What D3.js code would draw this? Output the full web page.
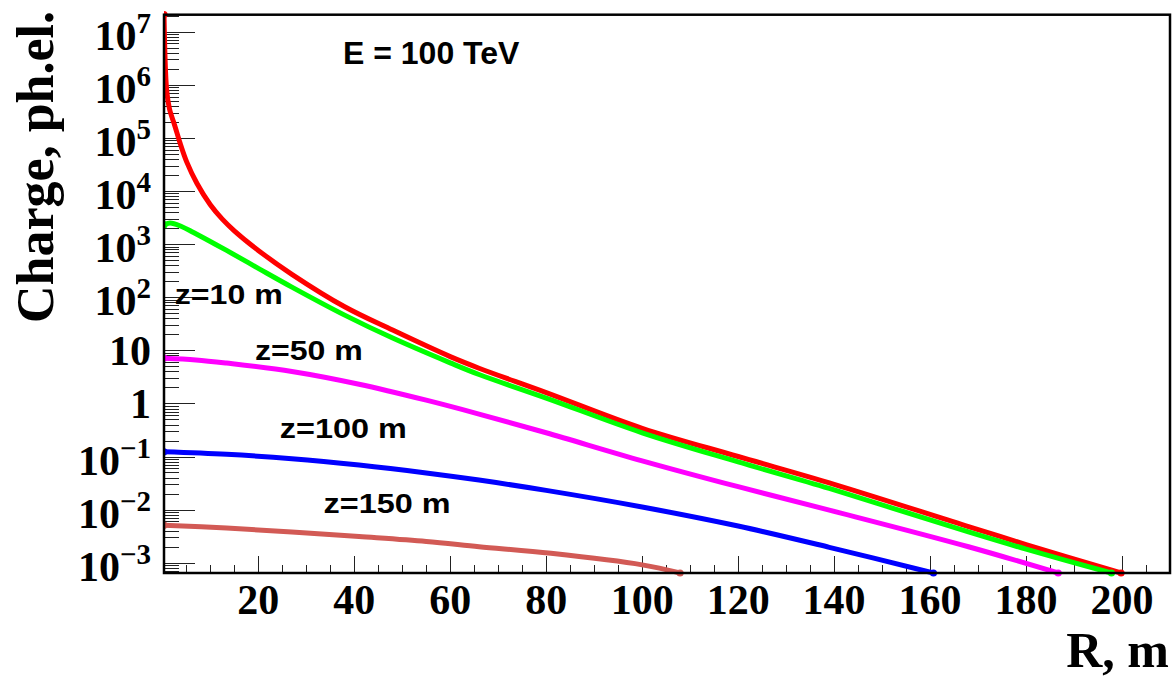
<!DOCTYPE html>
<html>
<head>
<meta charset="utf-8">
<script src="https://cdn.jsdelivr.net/npm/d3@7"></script>
<style>
  html, body { margin: 0; padding: 0; background: #fff; }
  svg { display: block; }
</style>
</head>
<body>
<svg id="chart" width="1174" height="677"></svg>
<script>
// Lateral distribution of Cherenkov charge, E = 100 TeV
// Shower axis curve (no label)
const radiusAxis = [0.35, 0.9, 1.5, 2.6, 3.7, 5.1, 7.2, 10, 12.5, 15, 20, 27, 38, 48, 60, 66, 80, 100, 120, 140, 168, 180, 199.8];
const chargeAxis = [2.1e7, 8.0e5, 3.5e5, 1.7e5, 8.0e4, 3.5e4, 1.4e4, 5.5e3, 2.95e3, 1.78e3, 7.6e2, 2.7e2, 66, 24, 7.6, 4.6, 1.6, 0.34, 0.10, 0.030, 4.8e-3, 2.2e-3, 6.4e-4];

// z = 10 m
const radiusZ10 = [0.35, 1.6, 4, 6.5, 10, 13.4, 20, 27, 38, 48, 60, 66, 80, 100, 120, 139, 168, 180, 197.8];
const chargeZ10 = [2.3e3, 2.5e3, 2.15e3, 1.65e3, 1.12e3, 7.6e2, 3.5e2, 1.55e2, 46, 17, 5.8, 3.5, 1.26, 0.28, 0.079, 0.025, 3.8e-3, 1.8e-3, 6.4e-4];

// z = 50 m
const radiusZ50 = [0.35, 7, 13.4, 27, 41, 55, 66, 80, 100, 120, 139, 168, 186.7];
const chargeZ50 = [7.1, 6.6, 5.75, 4.0, 2.3, 1.15, 0.63, 0.28, 0.083, 0.027, 9.8e-3, 2.0e-3, 6.4e-4];

// z = 100 m
const radiusZ100 = [0.35, 13.4, 27, 41, 55, 66, 80, 100, 120, 139, 160.7];
const chargeZ100 = [0.123, 0.110, 0.091, 0.069, 0.049, 0.036, 0.023, 0.0112, 4.9e-3, 1.95e-3, 6.4e-4];

// z = 150 m
const radiusZ150 = [0.35, 13.4, 27, 41, 55, 66, 81, 100, 107.9];
const chargeZ150 = [5.1e-3, 4.5e-3, 3.8e-3, 3.1e-3, 2.5e-3, 2.0e-3, 1.5e-3, 9.1e-4, 6.4e-4];

const xTickValues = [20, 40, 60, 80, 100, 120, 140, 160, 180, 200];
const yDecades = [-3, -2, -1, 0, 1, 2, 3, 4, 5, 6, 7];

const series = [
  { r: radiusAxis, q: chargeAxis, color: "#ff0000" },
  { r: radiusZ10,  q: chargeZ10,  color: "#00ff00" },
  { r: radiusZ50,  q: chargeZ50,  color: "#ff00ff" },
  { r: radiusZ100, q: chargeZ100, color: "#0000ff" },
  { r: radiusZ150, q: chargeZ150, color: "#d25a55" }
];

const curveLabels = [
  { text: "z=10 m",  r: 2.6,  q: 74,     w: 108 },
  { text: "z=50 m",  r: 19.3, q: 6.5,    w: 108 },
  { text: "z=100 m", r: 24.5, q: 0.22,   w: 127 },
  { text: "z=150 m", r: 33.6, q: 8.5e-3, w: 127 }
];

const svg = d3.select("#chart");
const frame = { left: 164, right: 1170, top: 14.7, bottom: 573 };

const x = d3.scaleLinear().domain([0.35, 210]).range([frame.left, frame.right]);
const y = d3.scaleLog().domain([6.4e-4, 2.09e7]).range([frame.bottom, frame.top]);

const serif = "'Liberation Serif', 'Times New Roman', serif";
const sans = "'Liberation Sans', Arial, Helvetica, sans-serif";

// clip for curves
svg.append("defs").append("clipPath").attr("id", "plotClip")
  .append("rect")
  .attr("x", frame.left).attr("y", frame.top - 4)
  .attr("width", frame.right - frame.left).attr("height", frame.bottom - frame.top + 8);

// Y ticks (inside the frame, pointing right)
const yTicks = svg.append("g").attr("stroke", "#222").attr("stroke-width", 1);
yDecades.forEach(d => {
  for (let k = 1; k <= 9; k++) {
    const v = k * Math.pow(10, d);
    if (v < y.domain()[0] || v > y.domain()[1]) continue;
    const yy = Math.round(y(v)) + 0.5;
    yTicks.append("line")
      .attr("x1", frame.left).attr("x2", frame.left + (k === 1 ? 31 : 15))
      .attr("y1", yy).attr("y2", yy);
  }
});
// minor ticks below 1e-3
[9e-4, 8e-4, 7e-4].forEach(v => {
  const yy = Math.round(y(v)) + 0.5;
  yTicks.append("line").attr("x1", frame.left).attr("x2", frame.left + 15)
    .attr("y1", yy).attr("y2", yy);
});

// X ticks (every 5 m, major every 20 m)
const xTicks = svg.append("g").attr("stroke", "#222").attr("stroke-width", 1);
d3.range(5, 211, 5).forEach(v => {
  if (v > x.domain()[1]) return;
  const xx = Math.round(x(v)) + 0.5;
  xTicks.append("line")
    .attr("x1", xx).attr("x2", xx)
    .attr("y1", frame.bottom).attr("y2", frame.bottom - (v % 20 === 0 ? 17 : 8));
});

// Curves
const line = d3.line()
  .x(d => x(d[0]))
  .y(d => y(d[1]))
  .curve(d3.curveCatmullRom.alpha(0.5));

const curves = svg.append("g").attr("clip-path", "url(#plotClip)");
series.forEach(s => {
  const pts = s.r.map((r, i) => [r, s.q[i]]);
  curves.append("path")
    .attr("d", line(pts))
    .attr("fill", "none")
    .attr("stroke", s.color)
    .attr("stroke-width", 5)
    .attr("stroke-linejoin", "round")
    .attr("stroke-linecap", "round");
  [pts[0], pts[pts.length - 1]].forEach(p => {
    curves.append("circle")
      .attr("cx", x(p[0])).attr("cy", y(p[1]))
      .attr("r", 3.6).attr("fill", s.color);
  });
});

// Frame
svg.append("rect")
  .attr("x", frame.left).attr("y", frame.top)
  .attr("width", frame.right - frame.left).attr("height", frame.bottom - frame.top)
  .attr("fill", "none").attr("stroke", "#000").attr("stroke-width", 2.5);

// X tick labels
svg.append("g").selectAll("text").data(xTickValues).join("text")
  .attr("x", d => x(d)).attr("y", 614)
  .attr("text-anchor", "middle")
  .attr("font-family", serif).attr("font-weight", "bold").attr("font-size", 42)
  .text(d => d);

// Y tick labels
const yLab = svg.append("g")
  .attr("font-family", serif).attr("font-weight", "bold").attr("font-size", 42)
  .attr("fill", "#000");
yDecades.forEach(d => {
  const v = Math.pow(10, d);
  const yy = y(v);
  const t = yLab.append("text").attr("x", 151).attr("text-anchor", "end");
  if (d === 0 || d === 1) {
    t.attr("y", yy + 14.5).text(d === 0 ? "1" : "10");
  } else {
    t.attr("y", yy + 18);
    t.append("tspan").text("10");
    t.append("tspan").attr("dy", -17).attr("font-size", 29)
      .text(d < 0 ? "\u2212" + (-d) : String(d));
  }
});

// Axis titles
svg.append("text")
  .attr("transform", "translate(53,167) rotate(-90)")
  .attr("text-anchor", "middle")
  .attr("font-family", serif).attr("font-weight", "bold").attr("font-size", 52)
  .text("Charge, ph.el.");

svg.append("text")
  .attr("x", 1169).attr("y", 667)
  .attr("text-anchor", "end")
  .attr("font-family", serif).attr("font-weight", "bold").attr("font-size", 50)
  .text("R, m");

// Energy annotation
svg.append("text")
  .attr("x", 343).attr("y", 64)
  .attr("font-family", sans).attr("font-weight", "bold").attr("font-size", 32)
  .text("E = 100 TeV");

// Curve labels
svg.append("g").selectAll("text").data(curveLabels).join("text")
  .attr("x", d => x(d.r)).attr("y", d => y(d.q))
  .attr("font-family", sans).attr("font-weight", "bold").attr("font-size", 28)
  .attr("textLength", d => d.w).attr("lengthAdjust", "spacingAndGlyphs")
  .text(d => d.text);
</script>
</body>
</html>
